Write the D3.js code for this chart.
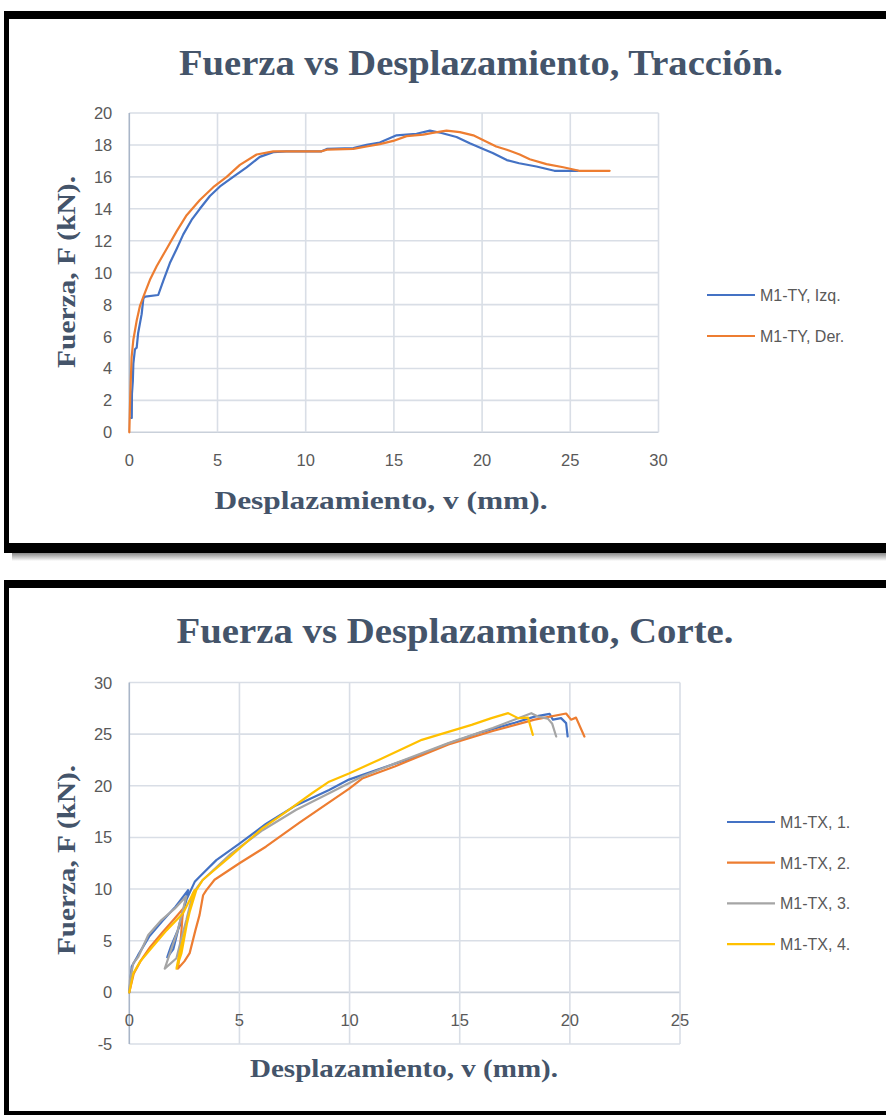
<!DOCTYPE html>
<html><head><meta charset="utf-8">
<script src="https://cdn.jsdelivr.net/npm/d3@7"></script>
<style>body{margin:0;background:#fff}svg{display:block}</style>
</head><body>
<svg id="c" width="886" height="1115"></svg>
<script>
// ---------- DATA ----------
const tracXTicks = [0,5,10,15,20,25,30];
const tracYTicks = [0,2,4,6,8,10,12,14,16,18,20];
const corteXTicks = [0,5,10,15,20,25];
const corteYTicks = [-5,0,5,10,15,20,25,30];

const tracNames = ["M1-TY, Izq.","M1-TY, Der."];
const tyIzq = [[0.1,0.9],[0.14,0.9],[0.15,2.4],[0.2,3.2],[0.23,4.3],[0.32,5.2],[0.42,5.3],[0.5,6.2],[0.7,7.4],[0.8,8.4],[0.9,8.5],[1.64,8.6],[1.93,9.5],[2.3,10.6],[2.69,11.5],[3.06,12.4],[3.53,13.3],[4.0,14.0],[4.57,14.8],[5.14,15.4],[5.89,16.0],[6.65,16.6],[7.4,17.25],[8.16,17.55],[8.9,17.6],[10.9,17.6],[11.2,17.75],[12.7,17.8],[13.45,18.0],[14.2,18.15],[15.15,18.6],[16.28,18.7],[17.04,18.9],[17.7,18.75],[18.55,18.5],[19.3,18.1],[20.06,17.75],[20.6,17.5],[21.4,17.05],[22.1,16.85],[23.08,16.65],[24.1,16.38],[25.44,16.38]];
const tyDer = [[0,0],[0.05,2.1],[0.13,4.7],[0.23,5.8],[0.42,7.0],[0.6,7.9],[0.8,8.5],[1.17,9.55],[1.55,10.4],[2.12,11.5],[2.69,12.6],[3.25,13.6],[4.0,14.55],[4.76,15.35],[5.52,16.0],[6.27,16.75],[7.22,17.4],[8.16,17.6],[10.9,17.6],[11.2,17.7],[12.7,17.75],[13.45,17.9],[14.2,18.05],[14.96,18.25],[15.72,18.55],[16.66,18.65],[17.2,18.75],[17.98,18.9],[18.74,18.8],[19.5,18.6],[20.25,18.2],[20.8,17.9],[21.4,17.7],[22.13,17.4],[22.7,17.1],[23.65,16.8],[24.6,16.6],[25.5,16.38],[27.23,16.38]];

const corteNames = ["M1-TX, 1.","M1-TX, 2.","M1-TX, 3.","M1-TX, 4."];
const tx1 = [[0,0],[0.11,2.5],[0.4,3.6],[0.9,5.4],[1.5,6.9],[2.1,8.3],[2.67,9.9],[2.3,6.5],[1.9,4.5],[1.72,3.4],[2.0,4.2],[2.3,6.8],[2.6,9.0],[2.97,10.7],[3.19,11.2],[3.95,12.8],[5.0,14.4],[6.2,16.3],[7.56,18.1],[9.07,19.6],[9.97,20.6],[11.32,21.6],[12.83,22.7],[14.49,24.1],[16.0,25.2],[17.5,26.1],[18.4,26.7],[19.08,26.97],[19.23,26.4],[19.6,26.55],[19.83,26.07],[19.9,24.77]];
const tx2 = [[0,0],[0.2,1.8],[0.5,3.0],[0.95,4.4],[1.5,5.8],[2.0,7.0],[2.44,8.1],[2.35,5.5],[2.21,2.3],[2.5,3.0],[2.74,3.8],[3.0,6.0],[3.19,7.5],[3.35,9.4],[3.5,9.9],[3.87,10.9],[5.0,12.5],[6.2,14.1],[7.71,16.4],[9.07,18.4],[9.97,19.7],[10.57,20.7],[12.08,21.9],[14.49,24.0],[16.5,25.3],[18.4,26.4],[19.83,27.0],[20.05,26.4],[20.28,26.6],[20.66,24.77]];
const tx3 = [[0,0],[0.03,1.2],[0.18,2.8],[0.41,3.45],[0.86,5.55],[1.46,7.0],[2.06,8.1],[2.59,9.3],[2.2,6.0],[1.8,3.5],[1.61,2.3],[2.14,3.3],[2.4,5.5],[2.59,7.0],[2.89,9.6],[3.3,10.8],[4.55,13.3],[6.05,15.7],[7.56,17.66],[9.07,19.28],[10.57,20.9],[12.08,22.19],[14.49,24.13],[16.5,25.6],[18.25,27.03],[18.55,26.7],[19.0,26.5],[19.2,26.0],[19.38,24.77]];
const tx4 = [[0,0],[0.18,1.84],[0.5,3.0],[0.93,4.1],[1.69,6.0],[2.44,7.65],[2.97,9.9],[2.6,6.5],[2.3,4.0],[2.14,2.3],[2.37,3.8],[2.67,7.3],[3.04,9.9],[3.34,10.9],[4.55,13.1],[6.05,15.9],[7.0,17.3],[8.31,19.3],[9.07,20.4],[9.97,21.2],[11.32,22.5],[13.28,24.45],[14.03,24.93],[15.54,25.9],[16.44,26.55],[17.2,27.03],[17.65,26.55],[18.1,26.6],[18.32,24.93]];

const tracColors = ["#4472C4","#ED7D31"];
const corteColors = ["#4472C4","#ED7D31","#A5A5A5","#FFC000"];

// ---------- DRAW ----------
const svg = d3.select("#c");
const defs = svg.append("defs");
const sg = defs.append("linearGradient").attr("id","sh").attr("x1",0).attr("y1",0).attr("x2",0).attr("y2",1);
sg.append("stop").attr("offset",0).attr("stop-color","#888");
sg.append("stop").attr("offset",1).attr("stop-color","#fff");

function frame(y0,y1,bt){
  svg.append("rect").attr("x",4).attr("y",y0).attr("width",900).attr("height",y1-y0).attr("fill","#000");
  svg.append("rect").attr("x",9).attr("y",y0+8).attr("width",900).attr("height",y1-y0-8-bt).attr("fill","#fff");
}
frame(11,553,10);
svg.append("rect").attr("x",12).attr("y",553).attr("width",880).attr("height",8).attr("fill","url(#sh)");
frame(580,1125,14);

const TITLE_COL="#44546A", TICK_COL="#595959", GRID="#D9DEE6", AXIS="#A9B6C8";

function chart(o){
  const x = d3.scaleLinear().domain(o.xd).range([o.x0,o.x1]);
  const y = d3.scaleLinear().domain(o.yd).range([o.y1,o.y0]);
  const g = svg.append("g");
  // grid
  g.selectAll(".hg").data(o.yt).enter().append("line")
    .attr("x1",o.x0).attr("x2",o.x1).attr("y1",d=>y(d)).attr("y2",d=>y(d))
    .attr("stroke",d=>d===0?"#C9D0DA":GRID).attr("stroke-width",1.6);
  g.selectAll(".vg").data(o.xt.filter(d=>d!==0)).enter().append("line")
    .attr("y1",o.y0).attr("y2",o.y1).attr("x1",d=>x(d)).attr("x2",d=>x(d))
    .attr("stroke",GRID).attr("stroke-width",1.6);
  g.append("line").attr("x1",x(0)).attr("x2",x(0)).attr("y1",o.y0).attr("y2",o.y1)
    .attr("stroke",AXIS).attr("stroke-width",1.6);
  // tick labels
  g.selectAll(".yl").data(o.yt).enter().append("text")
    .attr("x",o.x0-17).attr("y",d=>y(d)+6).attr("text-anchor","end")
    .attr("font-family","Liberation Sans, Arial, sans-serif").attr("font-size",16.5).attr("fill",TICK_COL)
    .text(d=>d);
  g.selectAll(".xl").data(o.xt).enter().append("text")
    .attr("x",d=>x(d)).attr("y",y(0)+34).attr("text-anchor","middle")
    .attr("font-family","Liberation Sans, Arial, sans-serif").attr("font-size",16.5).attr("fill",TICK_COL)
    .text(d=>d);
  // lines
  const line = d3.line().x(d=>x(d[0])).y(d=>y(d[1]));
  o.series.forEach((s,i)=>{
    g.append("path").attr("d",line(s)).attr("fill","none").attr("stroke",o.colors[i])
      .attr("stroke-width",2.2).attr("stroke-linejoin","round").attr("stroke-linecap","round");
  });
  // legend
  o.names.forEach((n,i)=>{
    const ly = o.ly0 + i*o.ldy;
    g.append("line").attr("x1",o.lx).attr("x2",o.lx+48).attr("y1",ly).attr("y2",ly)
      .attr("stroke",o.colors[i]).attr("stroke-width",2.2);
    g.append("text").attr("x",o.lx+53).attr("y",ly+6)
      .attr("font-family","Liberation Sans, Arial, sans-serif").attr("font-size",16).attr("fill",TICK_COL)
      .text(n);
  });
  // titles
  g.append("text").attr("x",o.tx).attr("y",o.ty).attr("text-anchor","middle")
    .attr("font-family","Liberation Serif, Times New Roman, serif").attr("font-weight","bold")
    .attr("font-size",36).attr("fill",TITLE_COL)
    .attr("textLength",o.tl).attr("lengthAdjust","spacingAndGlyphs").text(o.title);
  g.append("text").attr("x",o.xtx).attr("y",o.xty).attr("text-anchor","middle")
    .attr("font-family","Liberation Serif, Times New Roman, serif").attr("font-weight","bold")
    .attr("font-size",25).attr("fill",TITLE_COL)
    .attr("textLength",o.xtl).attr("lengthAdjust","spacingAndGlyphs").text("Desplazamiento, v (mm).");
  g.append("text").attr("transform",`translate(${o.ytx},${o.yty}) rotate(-90)`).attr("text-anchor","middle")
    .attr("font-family","Liberation Serif, Times New Roman, serif").attr("font-weight","bold")
    .attr("font-size",25).attr("fill",TITLE_COL)
    .attr("textLength",o.ytl).attr("lengthAdjust","spacingAndGlyphs").text("Fuerza, F (kN).");
}

chart({xd:[0,30],yd:[0,20],x0:129.3,x1:658.5,y0:113,y1:432.3,xt:tracXTicks,yt:tracYTicks,
  series:[tyIzq,tyDer],colors:tracColors,names:tracNames,lx:707,ly0:295,ldy:41,
  title:"Fuerza vs Desplazamiento, Tracción.",tx:481,ty:75,tl:604,
  xtx:381,xty:509,xtl:333,ytx:75,yty:272,ytl:192});

chart({xd:[0,25],yd:[-5,30],x0:129.3,x1:680,y0:682.5,y1:1044,xt:corteXTicks,yt:corteYTicks,
  series:[tx1,tx2,tx3,tx4],colors:corteColors,names:corteNames,lx:727,ly0:822,ldy:40.7,
  title:"Fuerza vs Desplazamiento, Corte.",tx:455,ty:643,tl:557,
  xtx:404,xty:1077,xtl:308,ytx:75,yty:860,ytl:190});
</script>
</body></html>
